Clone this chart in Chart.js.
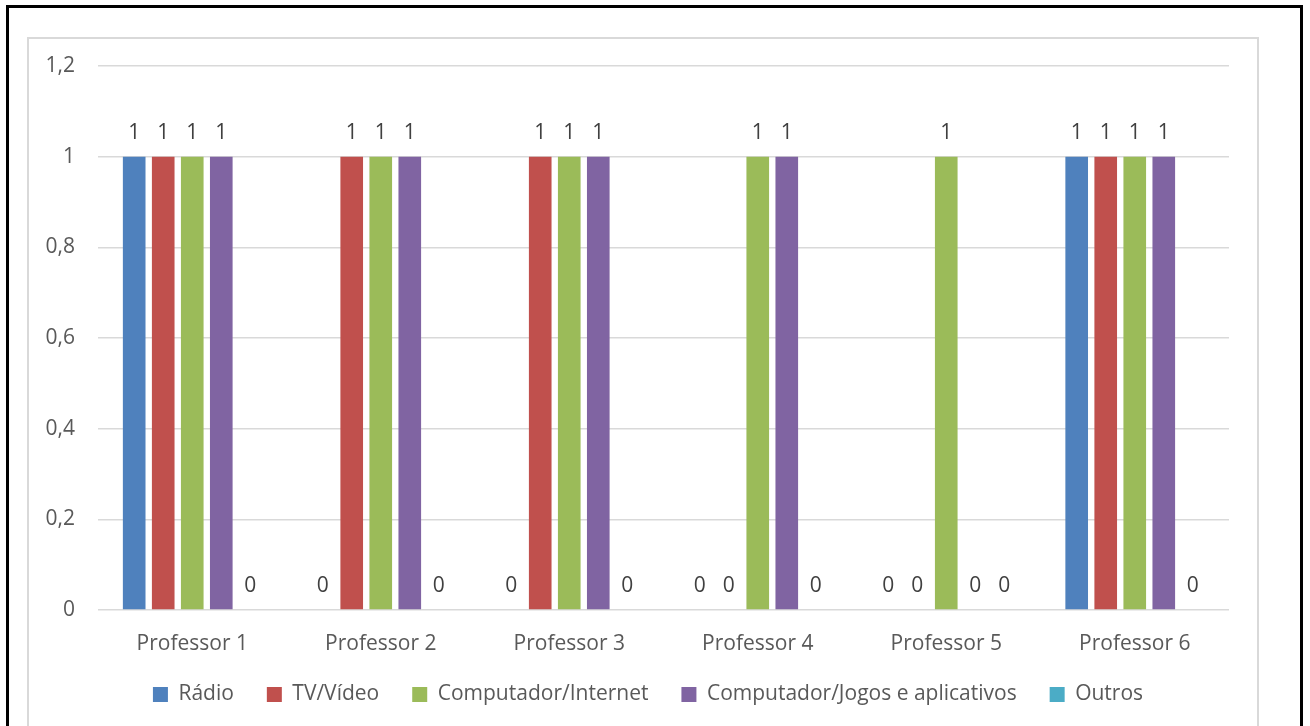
<!DOCTYPE html>
<html>
<head>
<meta charset="utf-8">
<script src="https://cdn.jsdelivr.net/npm/chart.js@4/dist/chart.umd.min.js"></script>
<style>
  html, body { margin: 0; padding: 0; background: #fff; width: 1310px; height: 726px; overflow: hidden; }
  #outer { position: absolute; left: 6px; top: 5px; width: 1297px; height: 760px; border: 3px solid #000; box-sizing: border-box; }
  #inner { position: absolute; left: 27px; top: 37px; width: 1232px; height: 760px; border: 2px solid #d9d9d9; box-sizing: border-box; }
  #c { position: absolute; left: 0; top: 0; }
</style>
</head>
<body>
<div id="outer"></div>
<div id="inner"></div>
<canvas id="c" width="1310" height="726"></canvas>
<script>
const categories = ['Professor 1', 'Professor 2', 'Professor 3', 'Professor 4', 'Professor 5', 'Professor 6'];
const radio      = [1, 0, 0, 0, 0, 1];
const tvVideo    = [1, 1, 1, 0, 0, 1];
const compNet    = [1, 1, 1, 1, 1, 1];
const compJogos  = [1, 1, 1, 1, 0, 1];
const outros     = [0, 0, 0, 0, 0, 0];
const yTickValues = [0, 0.2, 0.4, 0.6, 0.8, 1, 1.2];

const FONT = "'Open Sans', 'DejaVu Sans', sans-serif";
const FS = 21;

const valueLabels = {
  id: 'valueLabels',
  afterDatasetsDraw(chart) {
    const ctx = chart.ctx;
    ctx.save();
    ctx.font = FS + 'px ' + FONT;
    ctx.fillStyle = '#404040';
    ctx.textAlign = 'center';
    ctx.textBaseline = 'middle';
    chart.data.datasets.forEach((ds, i) => {
      const meta = chart.getDatasetMeta(i);
      meta.data.forEach((el, j) => {
        const v = ds.data[j];
        ctx.fillText(String(v).replace('.', ','), el.x, el.y - 24);
      });
    });
    ctx.restore();
  }
};

const legendShift = {
  id: 'legendShift',
  afterLayout(chart) {
    const lg = chart.legend;
    if (lg) {
      lg.left = 67;
      lg.right = 1229;
      lg.width = lg.right - lg.left;
    }
  }
};

new Chart(document.getElementById('c'), {
  type: 'bar',
  data: {
    labels: categories,
    datasets: [
      { label: 'Rádio', data: radio, backgroundColor: '#4F81BD' },
      { label: 'TV/Vídeo', data: tvVideo, backgroundColor: '#C0504D' },
      { label: 'Computador/Internet', data: compNet, backgroundColor: '#9BBB59' },
      { label: 'Computador/Jogos e aplicativos', data: compJogos, backgroundColor: '#8064A2' },
      { label: 'Outros', data: outros, backgroundColor: '#4BACC6' }
    ]
  },
  options: {
    responsive: false,
    animation: false,
    devicePixelRatio: 1,
    layout: { padding: { left: 0, right: 81, top: 66, bottom: 11 } },
    datasets: { bar: { categoryPercentage: 0.77, barPercentage: 0.78, borderWidth: 0 } },
    scales: {
      x: {
        grid: { display: false, drawTicks: false },
        border: { display: false },
        ticks: { color: '#595959', font: { family: FONT, size: FS }, padding: 21, maxRotation: 0 },
        afterFit(s) { s.height = 41; }
      },
      y: {
        min: 0, max: 1.2,
        afterBuildTicks(s) { s.ticks = yTickValues.map(v => ({ value: v })); },
        grid: { color: '#d9d9d9', lineWidth: 1.5, drawTicks: false },
        border: { display: false },
        ticks: {
          color: '#595959', font: { family: FONT, size: FS }, padding: 23,
          callback: v => String(Math.round(v * 10) / 10).replace('.', ',')
        },
        afterFit(s) { s.width = 98; }
      }
    },
    plugins: {
      legend: {
        position: 'bottom',
        labels: { color: '#595959', font: { family: FONT, size: FS }, boxWidth: 15, boxHeight: 15, padding: 33 }
      },
      tooltip: { enabled: false }
    }
  },
  plugins: [valueLabels, legendShift]
});
</script>
</body>
</html>
